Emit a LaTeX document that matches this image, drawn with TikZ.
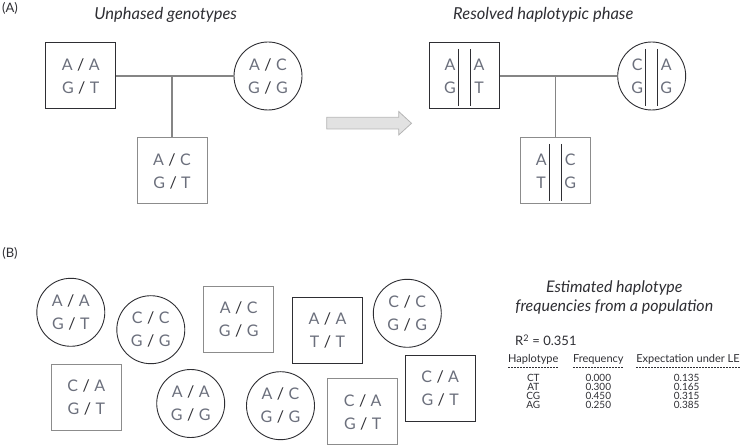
\documentclass[tikz,border=0pt]{standalone}
\usepackage{fontspec}
\setmainfont{Lato}
\usetikzlibrary{positioning}
\definecolor{genoInk}{HTML}{2E2E33}
\definecolor{genoLetter}{HTML}{6B6F7C}
\definecolor{genoGray}{HTML}{8C8C8C}
\definecolor{genoLink}{HTML}{858585}
\definecolor{genoArrowFill}{HTML}{E2E2E2}
\definecolor{genoArrowLine}{HTML}{B5B5B5}
\newcommand{\gslash}{\hspace{4.5pt}\textcolor{genoInk}{/}\hspace{4.5pt}}
\newcommand{\gpair}[4]{#1\gslash#2\\#3\gslash#4}
\tikzset{
  every picture/.style={font=\fontsize{14}{17}\selectfont, text=genoInk},
  geno square/.style={draw=genoInk, line width=1pt, minimum width=70pt,
    minimum height=66pt, inner sep=0pt, align=center, text=genoLetter,
    font=\fontsize{16}{23}\selectfont},
  geno square light/.style={geno square, draw=genoGray},
  geno round/.style={geno square, circle, minimum size=68pt, line width=0.9pt},
  geno link/.style={draw=genoLink, line width=1.1pt},
  phase letter/.style={inner sep=0pt, text=genoLetter, font=\fontsize{16}{18}\selectfont},
  phase bar/.style={draw=genoInk, line width=0.8pt},
  panel tag/.style={inner sep=0pt, font=\fontsize{13}{15}\selectfont},
  panel title/.style={inner sep=0pt, font=\fontsize{16.5}{19}\itshape},
  table head/.style={inner sep=0pt, font=\fontsize{11}{13}\selectfont},
  table cell/.style={inner sep=0pt, font=\fontsize{10}{11}\selectfont},
  table rule/.style={draw=genoInk, line width=0.5pt, dash pattern=on 2pt off 1pt}
}
% letters and the two bars inside a phased individual
\newcommand{\phaseinside}[5]{%
  \node[phase letter] (#1-tl) at ([shift={(-14.5,-11.5)}]#1.center) {#2};
  \node[phase letter] (#1-bl) at ([shift={(-14.5,11.5)}]#1.center) {#3};
  \node[phase letter] (#1-tr) at ([shift={(14.5,-11.5)}]#1.center) {#4};
  \node[phase letter] (#1-br) at ([shift={(14.5,11.5)}]#1.center) {#5};
  \draw[phase bar] ([shift={(-6,-27)}]#1.center) -- ([shift={(-6,30)}]#1.center);
  \draw[phase bar] ([shift={(6,-27)}]#1.center) -- ([shift={(6,30)}]#1.center);
}

\begin{document}
\begin{tikzpicture}[x=1pt,y=-1pt]
  \useasboundingbox (0,0) rectangle (745,446);

  % (A) unphased trio
  \node[panel tag] (tagA) at (10,8) {(A)};
  \node[panel title] (titleU) at (165.7,15) {Unphased genotypes};
  \node[geno square] (dadU) at (80.7,76) {\gpair{A}{A}{G}{T}};
  \node[geno round] (momU) at (268,76) {\gpair{A}{C}{G}{G}};
  \node[geno square light] (kidU) at (172,171) {\gpair{A}{C}{G}{T}};
  \coordinate (joinU) at (172,76);
  \draw[geno link] (dadU.east) -- (momU.west);
  \draw[geno link] (joinU) -- (kidU.north);

  % grey arrow between the trios
  \filldraw[fill=genoArrowFill, draw=genoArrowLine, line width=0.8pt]
    (326.7,117.3) -- (398.7,117.3) -- (398.7,111.5) -- (411.5,123.3)
    -- (398.7,135) -- (398.7,129) -- (326.7,129) -- cycle;

  % (A) resolved trio
  \node[panel title] (titleR) at (543.3,15) {Resolved haplotypic phase};
  \node[geno square] (dadR) at (464.5,76) {};
  \node[geno round] (momR) at (651.7,76) {};
  \node[geno square light] (kidR) at (555.7,171) {};
  \coordinate (joinR) at (555.7,76);
  \draw[geno link] (dadR.east) -- (momR.west);
  \draw[geno link] (joinR) -- (kidR.north);
  \phaseinside{dadR}{A}{G}{A}{T}
  \phaseinside{momR}{C}{G}{A}{G}
  \phaseinside{kidR}{A}{T}{C}{G}

  % (B) unrelated individuals
  \node[panel tag] (tagB) at (10,253) {(B)};
  \node[geno round] (p1) at (70.8,312.3) {\gpair{A}{A}{G}{T}};
  \node[geno round] (p2) at (150.8,329.7) {\gpair{C}{C}{G}{G}};
  \node[geno square light] (p3) at (238.7,319.7) {\gpair{A}{C}{G}{G}};
  \node[geno square] (p4) at (327.5,330.5) {\gpair{A}{A}{T}{T}};
  \node[geno round] (p5) at (407.3,313.3) {\gpair{C}{C}{G}{G}};
  \node[geno square light] (p6) at (86.3,397.2) {\gpair{C}{A}{G}{T}};
  \node[geno round] (p7) at (190.7,403.5) {\gpair{A}{A}{G}{G}};
  \node[geno round] (p8) at (280.5,405.7) {\gpair{A}{C}{G}{G}};
  \node[geno square light] (p9) at (362.7,412) {\gpair{C}{A}{G}{T}};
  \node[geno square] (p10) at (440.2,388.5) {\gpair{C}{A}{G}{T}};

  % frequency table
  \node[panel title, align=center, font=\fontsize{16}{18.4}\itshape] (titleF) at (614.3,297.5)
    {Estimated haplotype\\frequencies from a population};
  \node[inner sep=0pt, anchor=west, font=\fontsize{13}{15}\selectfont] (rsq) at (515,340)
    {R\textsuperscript{2} = 0.351};
  \node[table head] (hHap) at (533.3,359.3) {Haplotype};
  \node[table head] (hFreq) at (598.3,359.3) {Frequency};
  \node[table head] (hExp) at (688,359.3) {Expectation under LE};
  \draw[table rule] ([yshift=-3pt]hHap.south west) -- ([yshift=-3pt]hHap.south east);
  \draw[table rule] ([yshift=-3pt]hFreq.south west) -- ([yshift=-3pt]hFreq.south east);
  \draw[table rule] ([yshift=-3pt]hExp.south west) -- ([yshift=-3pt]hExp.south east);
  \foreach \hap/\fr/\ex [count=\i] in {CT/0.000/0.135, AT/0.300/0.165, CG/0.450/0.315, AG/0.250/0.385} {
    \node[table cell] (hap\i) at (533.3,368.6+9.1*\i) {\hap};
    \node[table cell] (fr\i) at (598.3,368.6+9.1*\i) {\fr};
    \node[table cell] (ex\i) at (686.7,368.6+9.1*\i) {\ex};
  }
\end{tikzpicture}
\end{document}
